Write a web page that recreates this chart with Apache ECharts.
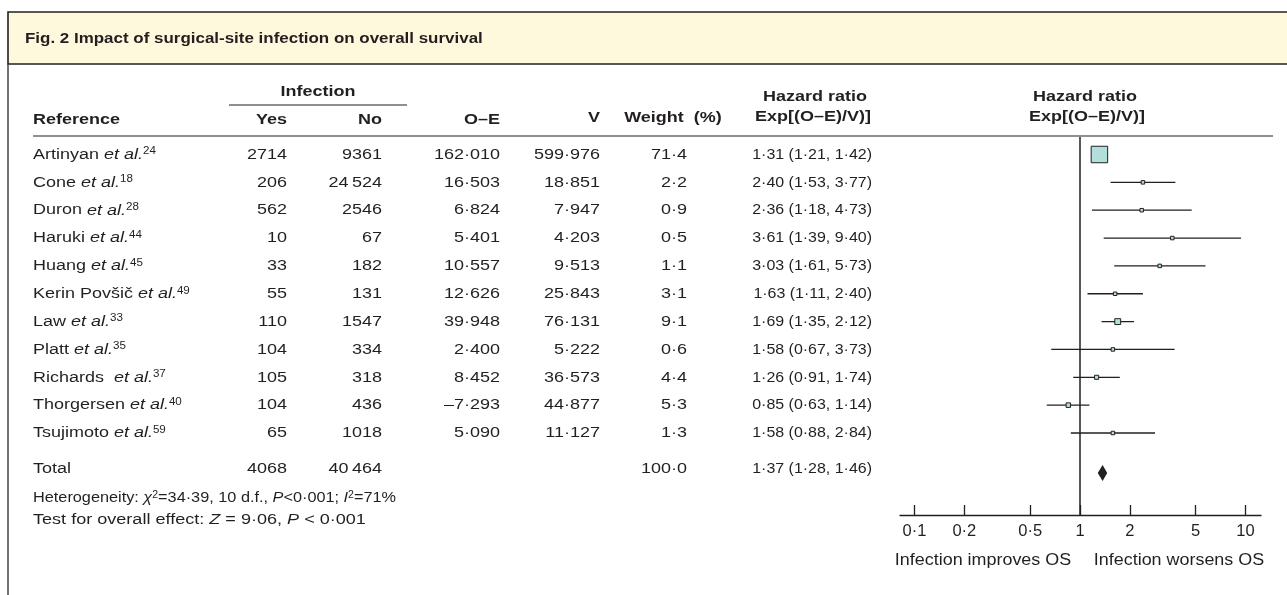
<!DOCTYPE html>
<html><head><meta charset="utf-8">
<script src="https://cdn.jsdelivr.net/npm/echarts@6/dist/echarts.min.js"></script>
<style>html,body{margin:0;padding:0;background:#fff}#c{width:1287px;height:595px}</style>
</head><body><div id="c"></div>
<script>
// ---- data ----
const studies = ['Artinyan', 'Cone', 'Duron', 'Haruki', 'Huang', 'Kerin Povšič', 'Law', 'Platt', 'Richards ', 'Thorgersen', 'Tsujimoto'];
const refs = [24, 18, 28, 44, 45, 49, 33, 35, 37, 40, 59];
const infYes = [2714, 206, 562, 10, 33, 55, 110, 104, 105, 104, 65];
const infNo = [9361, 24524, 2546, 67, 182, 131, 1547, 334, 318, 436, 1018];
const oMinusE = [162.010, 16.503, 6.824, 5.401, 10.557, 12.626, 39.948, 2.400, 8.452, -7.293, 5.090];
const variance = [599.976, 18.851, 7.947, 4.203, 9.513, 25.843, 76.131, 5.222, 36.573, 44.877, 11.127];
const weight = [71.4, 2.2, 0.9, 0.5, 1.1, 3.1, 9.1, 0.6, 4.4, 5.3, 1.3];
const hr = [1.31, 2.40, 2.36, 3.61, 3.03, 1.63, 1.69, 1.58, 1.26, 0.85, 1.58];
const hrLow = [1.21, 1.53, 1.18, 1.39, 1.61, 1.11, 1.35, 0.67, 0.91, 0.63, 0.88];
const hrHigh = [1.42, 3.77, 4.73, 9.40, 5.73, 2.40, 2.12, 3.73, 1.74, 1.14, 2.84];
const totalYes = 4068;
const totalNo = 40464;
const totalWeight = 100.0;
const totalHR = [1.37, 1.28, 1.46];
const xTicks = [0.1, 0.2, 0.5, 1, 2, 5, 10];

// ---- style / layout ----
const INK = '#231f20';
const FF = '"Liberation Sans", Arial, Helvetica, sans-serif';
const FS = 15.5;
const SX = 1.16;
const SX_HR = 1.03;
const Y_FIRST = 154.5, PITCH = 27.85, G_TOP = 137, G_BOT = 515;
const Y_MIN = -(Y_FIRST - G_TOP) / PITCH;
const Y_MAX = (G_BOT - Y_FIRST) / PITCH;
const ROW_TOTAL = (469 - Y_FIRST) / PITCH;
const ROW_HET = (498 - Y_FIRST) / PITCH;
const ROW_TEST = (520 - Y_FIRST) / PITCH;
const X_MIN = -180 / 165.5, X_MAX = 181 / 165.5;

function fmtNum(v, d) { const s = Math.abs(v).toFixed(d).replace('.', '\u00b7'); return (v < 0 ? '\u2013' : '') + s; }
function fmtInt(n) { return n >= 10000 ? String(n).replace(/(\d)(?=(\d{3})+$)/g, '$1\u2009') : String(n); }
function fmtHR(h, l, u) { return fmtNum(h, 2) + ' (' + fmtNum(l, 2) + ', ' + fmtNum(u, 2) + ')'; }

const rich = {
  n: { fontSize: FS, fontFamily: FF, fill: INK },
  i: { fontSize: FS, fontFamily: FF, fill: INK, fontStyle: 'italic' },
  s: { fontSize: 10, fontFamily: FF, fill: INK, verticalAlign: 'top' }
};
function T(x, y, text, align, isRich, sx) {
  const st = { text: text, fontSize: FS, fontFamily: FF, fill: INK, align: align || 'left', verticalAlign: 'middle' };
  if (isRich) st.rich = rich;
  return { type: 'text', x: x, y: y, scaleX: sx || SX, style: st };
}
function HB(x, y, text, align) {
  return { type: 'text', x: x, y: y, scaleX: SX, style: { text: text, fontSize: FS, fontWeight: 'bold', fontFamily: FF, fill: INK, align: align, verticalAlign: 'middle' } };
}

const rowData = studies.map((s, i) => [i, i]);
const forestData = studies.map((s, i) => [Math.log10(hr[i]), Math.log10(hrLow[i]), Math.log10(hrHigh[i]), i, weight[i]]);

const chart = echarts.init(document.getElementById('c'));
chart.setOption({
  animation: false,
  backgroundColor: '#fff',
  grid: { left: 900, right: 26, top: G_TOP, bottom: 595 - G_BOT },
  xAxis: {
    type: 'value', min: X_MIN, max: X_MAX, position: 'bottom',
    axisLine: { show: true, onZero: false, lineStyle: { color: INK, width: 1.3 } },
    axisTick: { show: true, inside: true, length: 10, customValues: xTicks.map(Math.log10), lineStyle: { color: INK, width: 1.3 } },
    axisLabel: {
      show: true, customValues: xTicks.map(Math.log10), margin: 8, fontSize: 16.5, fontFamily: FF, color: INK,
      formatter: function (v) {
        const t = xTicks.find(t => Math.abs(Math.log10(t) - v) < 1e-6);
        return t === undefined ? '' : String(t).replace('.', '\u00b7');
      }
    },
    splitLine: { show: false }
  },
  yAxis: { type: 'value', inverse: true, min: Y_MIN, max: Y_MAX, show: false, splitLine: { show: false } },
  series: [
    {
      type: 'custom', name: 'table', clip: false, silent: true,
      data: rowData,
      renderItem: function (params, api) {
        const i = api.value(0);
        const y = api.coord([0, api.value(1)])[1];
        return {
          type: 'group', children: [
            T(33, y, '{n|' + studies[i] + ' }{i|et al.}{s|' + refs[i] + '}', 'left', true),
            T(287, y, fmtInt(infYes[i]), 'right'),
            T(382, y, fmtInt(infNo[i]), 'right'),
            T(500, y, fmtNum(oMinusE[i], 3), 'right'),
            T(600, y, fmtNum(variance[i], 3), 'right'),
            T(687, y, fmtNum(weight[i], 1), 'right'),
            T(872, y, fmtHR(hr[i], hrLow[i], hrHigh[i]), 'right', false, SX_HR)
          ]
        };
      }
    },
    {
      type: 'custom', name: 'totals', clip: false, silent: true,
      data: [[0, ROW_TOTAL]],
      renderItem: function (params, api) {
        const y = api.coord([0, ROW_TOTAL])[1];
        const yh = api.coord([0, ROW_HET])[1];
        const yt = api.coord([0, ROW_TEST])[1];
        return {
          type: 'group', children: [
            T(33, y, 'Total', 'left'),
            T(287, y, fmtInt(totalYes), 'right'),
            T(382, y, fmtInt(totalNo), 'right'),
            T(687, y, fmtNum(totalWeight, 1), 'right'),
            T(872, y, fmtHR(totalHR[0], totalHR[1], totalHR[2]), 'right', false, SX_HR),
            T(33, yh, '{n|Heterogeneity: }{i|\u03c7}{s|2}{n|=34\u00b739, 10 d.f., }{i|P}{n|<0\u00b7001; }{i|I}{s|2}{n|=71%}', 'left', true, 1.05),
            T(33, yt, '{n|Test for overall effect: }{i|Z}{n| = 9\u00b706, }{i|P}{n| < 0\u00b7001}', 'left', true, 1.165)
          ]
        };
      }
    },
    {
      type: 'custom', name: 'forest', clip: false, silent: true,
      data: forestData,
      renderItem: function (params, api) {
        const y = api.coord([0, api.value(3)])[1];
        const xc = api.coord([api.value(0), 0])[0];
        const xl = api.coord([api.value(1), 0])[0];
        const xh = api.coord([api.value(2), 0])[0];
        const s = Math.max(3.5, 1.95 * Math.sqrt(api.value(4)));
        return {
          type: 'group', children: [
            { type: 'line', shape: { x1: xl, y1: y, x2: xh, y2: y }, style: { stroke: INK, lineWidth: 1.3 } },
            { type: 'rect', shape: { x: xc - s / 2, y: y - s / 2, width: s, height: s }, style: { fill: '#b3dfdb', stroke: INK, lineWidth: 1 } }
          ]
        };
      },
      markLine: {
        silent: true, symbol: 'none', label: { show: false },
        lineStyle: { color: INK, width: 1.5, type: 'solid' },
        data: [{ xAxis: 0 }]
      }
    },
    {
      type: 'custom', name: 'pooled', clip: false, silent: true,
      data: [[Math.log10(totalHR[0]), Math.log10(totalHR[1]), Math.log10(totalHR[2]), ROW_TOTAL]],
      renderItem: function (params, api) {
        const y = api.coord([0, api.value(3)])[1];
        const xc = api.coord([api.value(0), 0])[0];
        const xl = api.coord([api.value(1), 0])[0];
        const xh = api.coord([api.value(2), 0])[0];
        return { type: 'polygon', shape: { points: [[xl, y + 4], [xc, y - 4], [xh, y + 4], [xc, y + 12]] }, style: { fill: INK } };
      }
    }
  ],
  graphic: [
    { type: 'rect', shape: { x: 8, y: 12, width: 1295, height: 52 }, style: { fill: '#fef9dc', stroke: INK, lineWidth: 1.6 } },
    { type: 'line', shape: { x1: 8, y1: 64, x2: 8, y2: 600 }, style: { stroke: '#444', lineWidth: 1.5 } },
    { type: 'text', x: 25, y: 39, scaleX: 1.13, style: { text: 'Fig. 2 Impact of surgical-site infection on overall survival', fontSize: 15, fontWeight: 'bold', fontFamily: FF, fill: INK, align: 'left', verticalAlign: 'middle' } },
    HB(318, 92, 'Infection', 'center'),
    { type: 'line', shape: { x1: 229, y1: 105, x2: 407, y2: 105 }, style: { stroke: INK, lineWidth: 1.2 } },
    HB(33, 120, 'Reference', 'left'),
    HB(287, 120, 'Yes', 'right'),
    HB(382, 120, 'No', 'right'),
    HB(500, 120, 'O\u2013E', 'right'),
    HB(600, 118, 'V', 'right'),
    HB(673, 118, 'Weight  (%)', 'center'),
    HB(815, 97, 'Hazard ratio', 'center'),
    HB(813, 117, 'Exp[(O\u2013E)/V)]', 'center'),
    HB(1085, 97, 'Hazard ratio', 'center'),
    HB(1087, 117, 'Exp[(O\u2013E)/V)]', 'center'),
    { type: 'line', shape: { x1: 33, y1: 136, x2: 1273, y2: 136 }, style: { stroke: INK, lineWidth: 1.2 } },
    { type: 'text', x: 983, y: 561, scaleX: 1.12, style: { text: 'Infection improves OS', fontSize: 16, fontFamily: FF, fill: INK, align: 'center', verticalAlign: 'middle' } },
    { type: 'text', x: 1179, y: 561, scaleX: 1.12, style: { text: 'Infection worsens OS', fontSize: 16, fontFamily: FF, fill: INK, align: 'center', verticalAlign: 'middle' } }
  ]
});
</script>
</body></html>
